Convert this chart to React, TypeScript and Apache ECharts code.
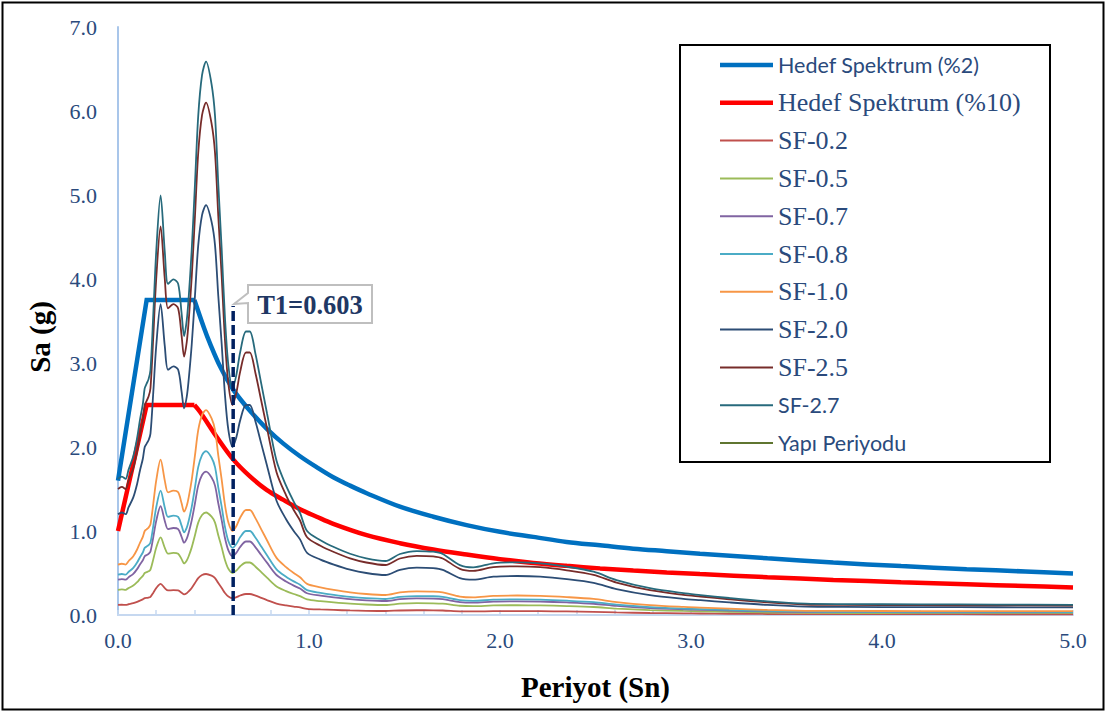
import React, { useEffect, useRef } from "react";
import * as echarts from "echarts";

// Period axis for the recorded motion (SF = 1.0 base record)
const recPeriods = [
  0.0, 0.02, 0.04, 0.055, 0.08, 0.1, 0.115, 0.13, 0.14, 0.15, 0.16, 0.17, 0.185, 0.2, 0.223,
  0.245, 0.262, 0.29, 0.315, 0.333, 0.346, 0.36, 0.37, 0.386, 0.403, 0.42, 0.44, 0.461, 0.49,
  0.508, 0.525, 0.543, 0.56, 0.578, 0.6, 0.62, 0.64, 0.67, 0.69, 0.72, 0.75, 0.78, 0.83, 0.88,
  0.92, 0.953, 0.99, 1.06, 1.13, 1.215, 1.3, 1.4, 1.476, 1.564, 1.65, 1.7, 1.79, 1.86, 1.965,
  2.09, 2.21, 2.35, 2.49, 2.61, 2.785, 2.96, 3.05, 3.2, 3.4, 3.6, 3.8, 4.2, 4.6, 5.0,
];
// Spectral acceleration of the record at scale factor 1.0 (g)
const recSa = [
  0.6, 0.61, 0.6, 0.64, 0.7, 0.78, 0.86, 0.93, 1.0, 1.02, 1.04, 1.08, 1.33, 1.6, 1.85,
  1.6, 1.46, 1.48, 1.46, 1.33, 1.23, 1.3, 1.4, 1.61, 1.9, 2.2, 2.38, 2.44, 2.34,
  2.2, 1.9, 1.61, 1.31, 1.1, 1.0, 1.06, 1.16, 1.25, 1.25, 1.15, 1.02, 0.89, 0.68, 0.57,
  0.5, 0.45, 0.37, 0.33, 0.3, 0.27, 0.25, 0.238, 0.269, 0.282, 0.279, 0.269, 0.22, 0.21, 0.228,
  0.232, 0.228, 0.213, 0.191, 0.154, 0.118, 0.096, 0.088, 0.075, 0.06, 0.05, 0.048, 0.047, 0.046, 0.045,
];

const scaleNames = ["SF-0.2", "SF-0.5", "SF-0.7", "SF-0.8", "SF-1.0", "SF-2.0", "SF-2.5", "SF-2.7"];
const scaleFactors = [0.2, 0.5, 0.7, 0.8, 1.0, 2.0, 2.5, 2.7];
const scaleColors = ["#C0504D", "#9BBB59", "#8064A2", "#4BACC6", "#F79646", "#2C4D75", "#772C2A", "#276A7C"];

// Target spectrum (%2): rising branch + plateau, then descending branch
const target2T = [0, 0.15, 0.4, 0.45, 0.482, 0.534, 0.604, 0.691, 0.778, 0.866, 0.953, 1.04, 1.127, 1.215,
  1.302, 1.476, 1.651, 1.825, 2.0, 2.174, 2.349, 2.524, 2.698, 2.873, 3.047, 3.4, 3.745, 4.1, 4.443, 4.75, 5.0];
const target2Sa = [1.6, 3.75, 3.75, 3.42, 3.23, 2.96, 2.68, 2.43, 2.22, 2.04, 1.89, 1.76, 1.64, 1.54,
  1.45, 1.29, 1.17, 1.07, 0.99, 0.93, 0.87, 0.83, 0.79, 0.76, 0.73, 0.675, 0.625, 0.582, 0.546, 0.518, 0.495];

// Target spectrum (%10)
const target10T = [0, 0.15, 0.4, 0.429, 0.517, 0.604, 0.691, 0.778, 0.866, 0.953, 1.04, 1.127, 1.302, 1.476,
  1.651, 1.825, 2.0, 2.174, 2.349, 2.524, 2.698, 2.873, 3.047, 3.4, 3.745, 4.1, 4.443, 4.75, 5.0];
const target10Sa = [1.0, 2.5, 2.5, 2.42, 2.12, 1.85, 1.65, 1.49, 1.37, 1.26, 1.17, 1.085, 0.95, 0.855,
  0.78, 0.72, 0.665, 0.62, 0.585, 0.555, 0.53, 0.507, 0.487, 0.45, 0.418, 0.39, 0.366, 0.345, 0.328];
const plateauEndIndex = 2; // index of the corner period TB = 0.40 in both target arrays

// Structure period
const structurePeriod = 0.603;
const periodLineTop = 3.68;

const xTicks = [0, 1, 2, 3, 4, 5];
const yTicks = [0, 1, 2, 3, 4, 5, 6, 7];

const TEXT_BLUE = "#2A4A7C";
const SERIF = "'Liberation Serif', 'Times New Roman', serif";
const SANS = "Lato, 'Open Sans', sans-serif";

export default function App() {
  const ref = useRef<HTMLDivElement>(null);

  useEffect(() => {
    document.body.style.margin = "0";
    if (!ref.current) return;
    const chart = echarts.init(ref.current, undefined, { renderer: "svg" });

    const pair = (ts: number[], vs: number[]) => ts.map((t, i) => [t, vs[i]]);

    const targetSeries = (name: string, ts: number[], vs: number[], color: string) => {
      const all = pair(ts, vs);
      return [
        {
          name,
          type: "line",
          data: all.slice(0, plateauEndIndex + 1),
          symbol: "none",
          lineStyle: { color, width: 4.5, join: "miter" },
          itemStyle: { color },
          z: 2,
        },
        {
          name,
          type: "line",
          data: all.slice(plateauEndIndex),
          symbol: "none",
          smooth: 0.35,
          lineStyle: { color, width: 4.5 },
          itemStyle: { color },
          z: 2,
        },
      ];
    };

    const series: any[] = [
      ...targetSeries("Hedef Spektrum (%2)", target2T, target2Sa, "#0070C0"),
      ...targetSeries("Hedef Spektrum (%10)", target10T, target10Sa, "#FF0000"),
      ...scaleNames.map((name, k) => ({
        name,
        type: "line",
        data: recPeriods.map((t, i) => [t, +(recSa[i] * scaleFactors[k]).toFixed(4)]),
        symbol: "none",
        smooth: 0.3,
        lineStyle: { color: scaleColors[k], width: 1.8 },
        itemStyle: { color: scaleColors[k] },
        z: 3,
      })),
      {
        name: "Yapı Periyodu",
        type: "line",
        data: [
          [structurePeriod, 0],
          [structurePeriod, periodLineTop],
        ],
        symbol: "none",
        lineStyle: { color: "#002060", width: 3.5, type: [10, 4] },
        itemStyle: { color: "#5F7530" },
        z: 4,
      },
    ];

    const legendNames = [
      "Hedef Spektrum (%2)",
      "Hedef Spektrum (%10)",
      ...scaleNames,
      "Yapı Periyodu",
    ];
    const sansItems = new Set(["Hedef Spektrum (%2)", "SF-2.7", "Yapı Periyodu"]);
    const thickItems = new Set(["Hedef Spektrum (%2)", "Hedef Spektrum (%10)"]);
    const legendData = legendNames.map((n) => {
      const item: any = {
        name: n,
        icon: thickItems.has(n) ? "path://M0 0H53V4.5H0Z" : "path://M0 0H53V2H0Z",
        textStyle: sansItems.has(n)
          ? { fontFamily: SANS, fontSize: 21.5, color: TEXT_BLUE, lineHeight: 28 }
          : { fontFamily: SERIF, fontSize: 26, color: TEXT_BLUE, lineHeight: 28 },
      };
      if (n === "Yapı Periyodu") {
        item.itemStyle = { color: "#5F7530" };
      }
      return item;
    });

    chart.setOption({
      animation: false,
      backgroundColor: "#ffffff",
      grid: { left: 118, right: 34, top: 27, bottom: 98, containLabel: false },
      xAxis: {
        type: "value",
        min: 0,
        max: 5,
        interval: 1,
        axisLine: { show: true, lineStyle: { color: "#C6D8F0", width: 2 } },
        axisTick: { show: true, inside: true, length: 5, lineStyle: { color: "#C6D8F0", width: 1.5 } },
        minorTick: { show: true, splitNumber: 5, length: 5, lineStyle: { color: "#C6D8F0", width: 1.5 } },
        splitLine: { show: false },
        axisLabel: {
          margin: 14,
          fontFamily: SERIF,
          fontSize: 22,
          color: TEXT_BLUE,
          formatter: (v: number) => (xTicks.includes(v) ? v.toFixed(1) : ""),
        },
        name: "Periyot (Sn)",
        nameLocation: "middle",
        nameGap: 57,
        nameTextStyle: { fontFamily: SERIF, fontSize: 29, fontWeight: "bold", color: "#000" },
      },
      yAxis: {
        type: "value",
        min: 0,
        max: 7,
        interval: 1,
        axisLine: { show: true, lineStyle: { color: "#A9C6EA", width: 2 } },
        axisTick: { show: false },
        splitLine: { show: false },
        axisLabel: {
          margin: 21,
          fontFamily: SERIF,
          fontSize: 22,
          color: TEXT_BLUE,
          formatter: (v: number) => (yTicks.includes(v) ? v.toFixed(1) : ""),
        },
      },
      legend: {
        orient: "vertical",
        left: 720,
        top: 51,
        padding: 0,
        itemGap: 9.8,
        itemWidth: 53,
        itemHeight: 14,
        symbolKeepAspect: true,
        selectedMode: false,
        data: legendData,
        z: 10,
      },
      graphic: [
        {
          type: "rect",
          shape: { x: 2.5, y: 2.5, width: 1101, height: 707 },
          style: { fill: "none", stroke: "#000", lineWidth: 2 },
          z: 1,
          silent: true,
        },
        {
          type: "rect",
          shape: { x: 680, y: 45, width: 370, height: 417 },
          style: { fill: "#fff", stroke: "#000", lineWidth: 2 },
          z: 8,
          silent: true,
        },
        {
          type: "polygon",
          shape: {
            points: [
              [248, 285],
              [372, 285],
              [372, 323],
              [248, 323],
              [248, 303],
              [234, 304],
              [248, 293],
            ],
          },
          style: { fill: "#fff", stroke: "#BFBFBF", lineWidth: 2 },
          z: 8,
          silent: true,
        },
        {
          type: "text",
          x: 310,
          y: 305,
          style: {
            text: "T1=0.603",
            fontFamily: SERIF,
            fontSize: 26.5,
            fontWeight: "bold",
            fill: "#1F3864",
            align: "center",
            verticalAlign: "middle",
          },
          z: 9,
          silent: true,
        },
        {
          type: "text",
          x: 40,
          y: 337,
          rotation: Math.PI / 2,
          style: {
            text: "Sa (g)",
            fontFamily: SERIF,
            fontSize: 29,
            fontWeight: "bold",
            fill: "#000",
            align: "center",
            verticalAlign: "middle",
          },
          z: 9,
          silent: true,
        },
      ],
      series,
    });

    return () => chart.dispose();
  }, []);

  return <div ref={ref} style={{ width: 1107, height: 713 }} />;
}
